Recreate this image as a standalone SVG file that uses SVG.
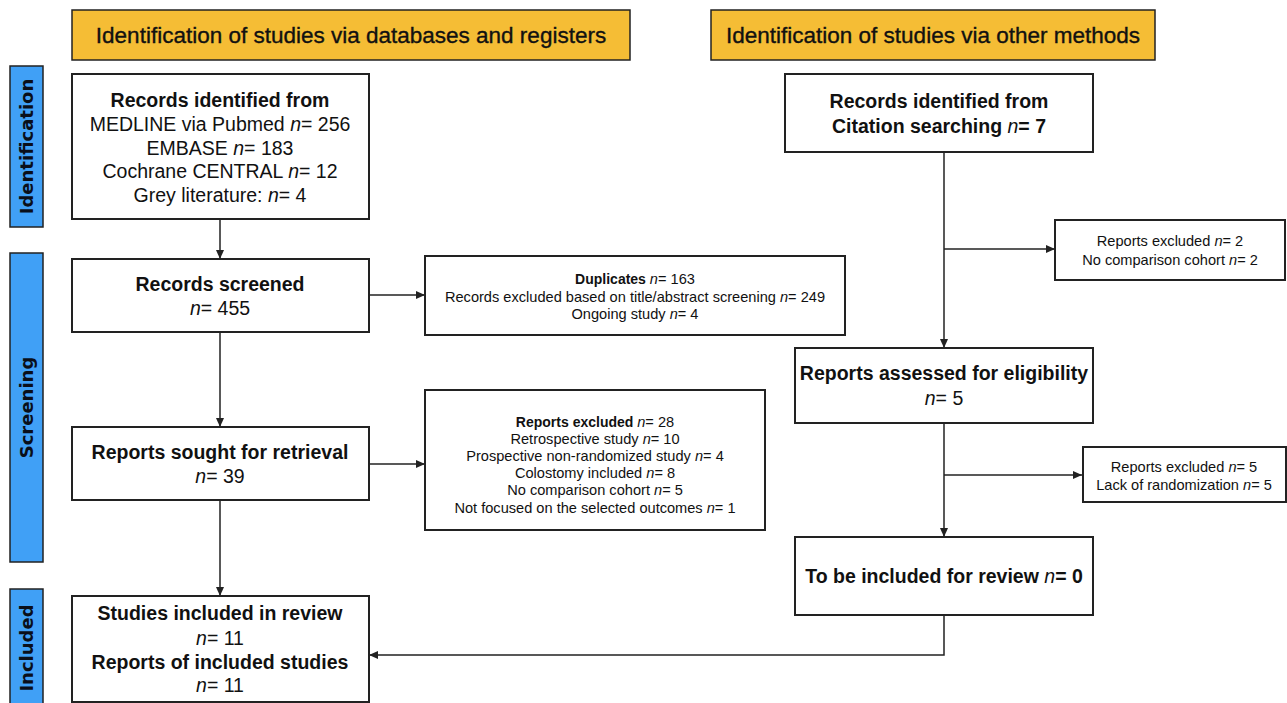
<svg xmlns="http://www.w3.org/2000/svg" width="1287" height="703" viewBox="0 0 1287 703">
<style>
text{font-family:"Liberation Sans",Arial,sans-serif;fill:#111;text-anchor:middle}
.hdr rect{fill:#F5BD35;stroke:#222;stroke-width:1.5}
.hdr text{font-size:22.5px;stroke:#111;stroke-width:0.35}
.side rect{fill:#40A0F6;stroke:#222;stroke-width:1.5}
.side text{font-size:18px;font-family:"DejaVu Sans",sans-serif;font-weight:bold;fill:#0a0f1a}
.box rect{fill:#fff;stroke:#222;stroke-width:2}
.big{font-size:19.5px}
.b{font-weight:bold}
.sm{font-size:14.6px}
.sb{font-weight:bold;font-size:14px}
.i{font-style:italic}
.conn path{fill:none;stroke:#222;stroke-width:1.5}
</style>
<defs>
<marker id="ah" markerWidth="10" markerHeight="10" refX="9" refY="5" orient="auto" markerUnits="userSpaceOnUse">
<path d="M0,1 L9,5 L0,9 z" fill="#222"/>
</marker>
</defs>
<rect width="1287" height="703" fill="#fff"/>

<g id="hdr1" class="hdr"><rect x="72" y="10" width="558" height="50"/><text x="351" y="43">Identification of studies via databases and registers</text></g>
<g id="hdr2" class="hdr"><rect x="711" y="10" width="444" height="50"/><text x="933" y="43">Identification of studies via other methods</text></g>

<g id="side-identification" class="side"><rect x="10" y="66" width="33" height="161"/><text transform="translate(33,146.5) rotate(-90)">Identification</text></g>
<g id="side-screening" class="side"><rect x="10" y="253" width="33" height="309"/><text transform="translate(33,407.5) rotate(-90)">Screening</text></g>
<g id="side-included" class="side"><rect x="10" y="589" width="33" height="120"/><text transform="translate(33,648) rotate(-90)">Included</text></g>

<g class="conn" id="connectors">
<path d="M220,219 V259" marker-end="url(#ah)"/>
<path d="M369,295 H425" marker-end="url(#ah)"/>
<path d="M220,332 V427" marker-end="url(#ah)"/>
<path d="M369,464 H425" marker-end="url(#ah)"/>
<path d="M220,500 V596" marker-end="url(#ah)"/>
<path d="M944,152 V348" marker-end="url(#ah)"/>
<path d="M944,249 H1055" marker-end="url(#ah)"/>
<path d="M944,423 V537" marker-end="url(#ah)"/>
<path d="M944,475 H1082" marker-end="url(#ah)"/>
<path d="M944,615 V655 H369" marker-end="url(#ah)"/>
</g>

<g id="records-identified" class="box"><rect x="72" y="74" width="297" height="145"/>
<text class="big b" x="220" y="107">Records identified from</text>
<text class="big" x="220" y="131">MEDLINE via Pubmed <tspan class="i">n</tspan>= 256</text>
<text class="big" x="220" y="155">EMBASE <tspan class="i">n</tspan>= 183</text>
<text class="big" x="220" y="178">Cochrane CENTRAL <tspan class="i">n</tspan>= 12</text>
<text class="big" x="220" y="202">Grey literature: <tspan class="i">n</tspan>= 4</text>
</g>

<g id="records-screened" class="box"><rect x="72" y="259" width="297" height="73"/>
<text class="big b" x="220" y="291">Records screened</text>
<text class="big" x="220" y="315"><tspan class="i">n</tspan>= 455</text>
</g>

<g id="duplicates" class="box"><rect x="425" y="256" width="420" height="79"/>
<text class="sm" x="635" y="284"><tspan class="sb">Duplicates </tspan><tspan class="i">n</tspan>= 163</text>
<text class="sm" x="635" y="302">Records excluded based on title/abstract screening <tspan class="i">n</tspan>= 249</text>
<text class="sm" x="635" y="319">Ongoing study <tspan class="i">n</tspan>= 4</text>
</g>

<g id="reports-sought" class="box"><rect x="72" y="427" width="297" height="73"/>
<text class="big b" x="220" y="459">Reports sought for retrieval</text>
<text class="big" x="220" y="483"><tspan class="i">n</tspan>= 39</text>
</g>

<g id="reports-excluded-28" class="box"><rect x="425" y="390" width="340" height="140"/>
<text class="sm" x="595" y="427"><tspan class="sb">Reports excluded </tspan><tspan class="i">n</tspan>= 28</text>
<text class="sm" x="595" y="444">Retrospective study <tspan class="i">n</tspan>= 10</text>
<text class="sm" x="595" y="461">Prospective non-randomized study <tspan class="i">n</tspan>= 4</text>
<text class="sm" x="595" y="478">Colostomy included <tspan class="i">n</tspan>= 8</text>
<text class="sm" x="595" y="495">No comparison cohort <tspan class="i">n</tspan>= 5</text>
<text class="sm" x="595" y="513">Not focused on the selected outcomes <tspan class="i">n</tspan>= 1</text>
</g>

<g id="studies-included" class="box"><rect x="72" y="596" width="297" height="106"/>
<text class="big b" x="220" y="620">Studies included in review</text>
<text class="big" x="220" y="645"><tspan class="i">n</tspan>= 11</text>
<text class="big b" x="220" y="669">Reports of included studies</text>
<text class="big" x="220" y="692"><tspan class="i">n</tspan>= 11</text>
</g>

<g id="citation" class="box"><rect x="785" y="74" width="308" height="78"/>
<text class="big b" x="939" y="108">Records identified from</text>
<text class="big b" x="939" y="133">Citation searching <tspan class="i" font-weight="normal">n</tspan>= 7</text>
</g>

<g id="excluded-2" class="box"><rect x="1055" y="220" width="230" height="60"/>
<text class="sm" x="1170" y="246">Reports excluded <tspan class="i">n</tspan>= 2</text>
<text class="sm" x="1170" y="265">No comparison cohort <tspan class="i">n</tspan>= 2</text>
</g>

<g id="assessed" class="box"><rect x="795" y="348" width="298" height="75"/>
<text class="big b" x="944" y="380">Reports assessed for eligibility</text>
<text class="big" x="944" y="405"><tspan class="i">n</tspan>= 5</text>
</g>

<g id="excluded-5" class="box"><rect x="1083" y="447" width="203" height="55"/>
<text class="sm" x="1184" y="472">Reports excluded <tspan class="i">n</tspan>= 5</text>
<text class="sm" x="1184" y="490">Lack of randomization <tspan class="i">n</tspan>= 5</text>
</g>

<g id="to-be-included" class="box"><rect x="795" y="537" width="298" height="78"/>
<text class="big b" x="944" y="583">To be included for review <tspan class="i" font-weight="normal">n</tspan>= 0</text>
</g>
</svg>
